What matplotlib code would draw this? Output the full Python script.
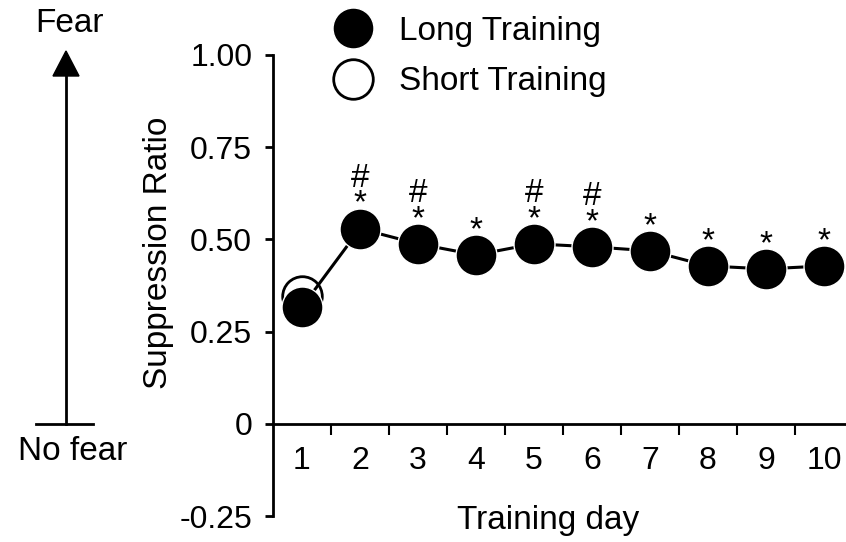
import matplotlib
matplotlib.use("Agg")
import matplotlib.pyplot as plt
from matplotlib.lines import Line2D
from matplotlib.patches import Polygon

# Fonte parecida com Arial
plt.rcParams['font.family'] = ['Liberation Sans', 'DejaVu Sans']

# Dados
dias = [1, 2, 3, 4, 5, 6, 7, 8, 9, 10]
dias_rotulos = ["1", "2", "3", "4", "5", "6", "7", "8", "9", "10"]
long_training = [0.317, 0.529, 0.488, 0.458, 0.488, 0.480, 0.469, 0.428, 0.420, 0.428]
short_dias = [1]
short_training = [0.347]
# marcas de significancia acima de cada ponto
asteriscos = ["", "*", "*", "*", "*", "*", "*", "*", "*", "*"]
cerquilhas = ["", "#", "#", "", "#", "#", "", "", "", ""]

y_ticks = [-0.25, 0, 0.25, 0.50, 0.75, 1.00]
y_rotulos = ["-0.25", "0", "0.25", "0.50", "0.75", "1.00"]

W, H = 846, 542


def fx(px):
    return px / W


def fy(py):
    return 1 - py / H


fig = plt.figure(figsize=(W / 100, H / 100), dpi=100)
ax = fig.add_axes([fx(273), fy(516), 1 - fx(273), fy(55) - fy(516)])

# Short training (circulo aberto) por baixo
ax.plot(short_dias, short_training, 'o', ms=28.5, mfc='white', mec='black', mew=2,
        zorder=3, clip_on=False, label='Short Training')
# Long training (circulos cheios com linha)
ax.plot(dias, long_training, '-o', color='black', lw=2.2, ms=29.5, mfc='black',
        mec='white', mew=1, zorder=4, clip_on=False, label='Long Training')

# asteriscos e cerquilhas (num texto so, # em cima do *)
for d, v, a, c in zip(dias, long_training, asteriscos, cerquilhas):
    marca = "\n".join([m for m in (c, a) if m])
    if marca:
        ax.annotate(marca, (d, v), xytext=(0, 11.5), textcoords='offset points',
                    ha='center', va='baseline', fontsize=24, linespacing=0.8)

ax.set_xlim(0.5, 10.38)
ax.set_ylim(-0.25, 1.0)

ax.spines['top'].set_visible(False)
ax.spines['right'].set_visible(False)
ax.spines['bottom'].set_position(('data', 0))
ax.spines['left'].set_linewidth(2)
ax.spines['bottom'].set_linewidth(2)

ax.set_yticks(y_ticks)
ax.set_yticklabels(y_rotulos)
ax.tick_params(axis='y', direction='out', length=6, width=2, pad=9, labelsize=23)

# ticks do eixo x entre os dias, rotulos nos dias
ax.set_xticks([d + 0.5 for d in dias[:-1]])
ax.set_xticklabels([])
ax.tick_params(axis='x', which='major', direction='out', length=8, width=1.5)
ax.set_xticks(dias, minor=True)
ax.set_xticklabels(dias_rotulos, minor=True)
ax.tick_params(axis='x', which='minor', length=0, pad=16, labelsize=23)

ax.set_ylabel("Suppression Ratio", fontsize=24, va='center', ha='center')
ax.yaxis.set_label_coords((158 - 273) / 573, (516 - 253) / 461)
ax.set_xlabel("Training day", fontsize=24, va='center', ha='center')
ax.xaxis.set_label_coords((548 - 273) / 573, (516 - 521) / 461)

# legenda
handles, labels = ax.get_legend_handles_labels()
leg = ax.legend(handles[::-1], labels[::-1], loc='upper left',
                bbox_to_anchor=(fx(336), fy(16)), bbox_transform=fig.transFigure,
                frameon=False, fontsize=24, numpoints=1, handlelength=1.0,
                handletextpad=0.9, labelspacing=0.58, borderpad=0, borderaxespad=0)
for h in leg.legend_handles:
    h.set_linestyle('None')

# seta Fear / No fear
fig.add_artist(Line2D([fx(66), fx(66)], [fy(424), fy(72)], color='black', lw=2,
                      transform=fig.transFigure))
fig.add_artist(Line2D([fx(36), fx(93)], [fy(424), fy(424)], color='black', lw=2,
                      transform=fig.transFigure))
fig.add_artist(Polygon([[fx(66), fy(51)], [fx(53), fy(76)], [fx(79), fy(76)]],
                       closed=True, color='black', transform=fig.transFigure))
fig.text(fx(70), fy(24), "Fear", fontsize=24, ha='center', va='center')
fig.text(fx(73), fy(451), "No fear", fontsize=24, ha='center', va='center')

fig.savefig("out.png", dpi=100)
